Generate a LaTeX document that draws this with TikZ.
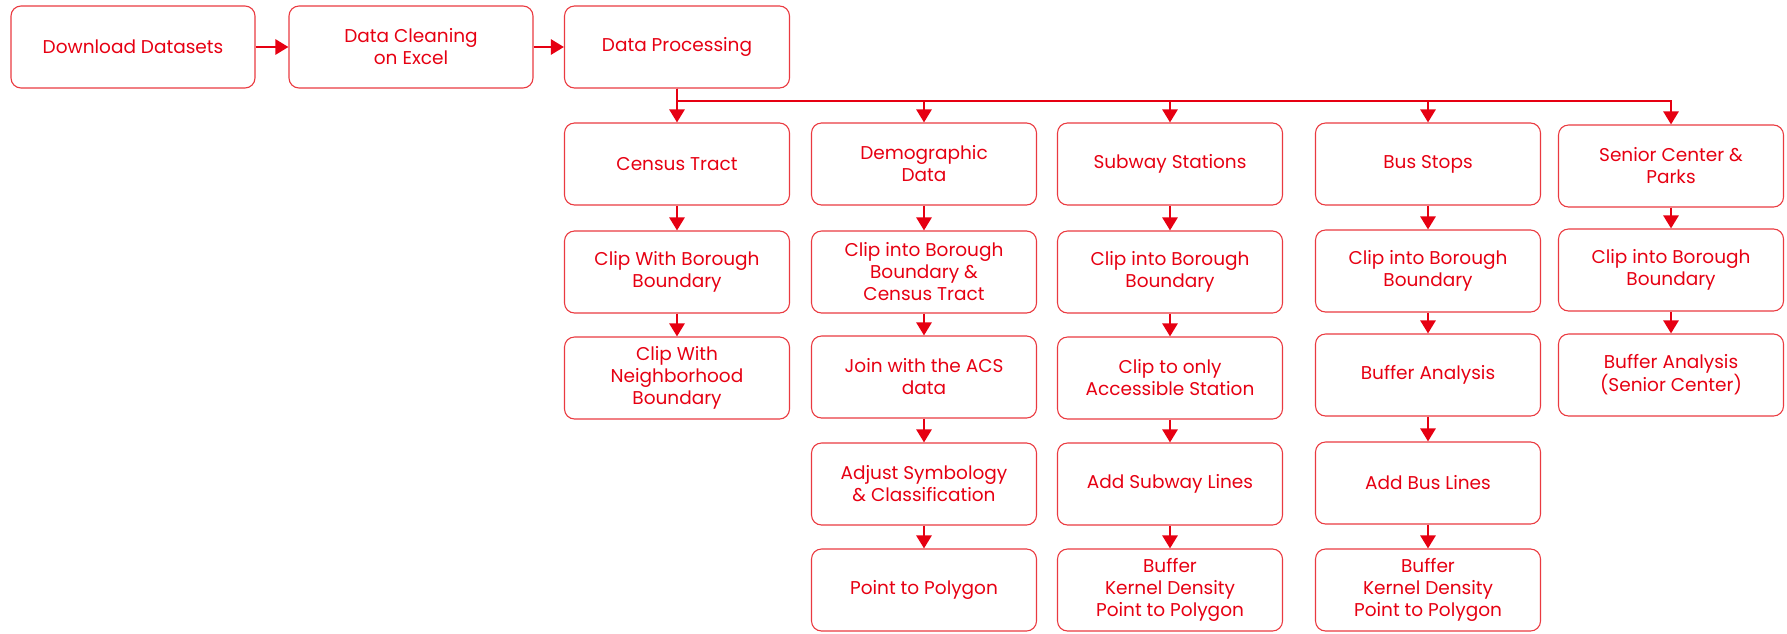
\documentclass[tikz,border=0pt]{standalone}
\usepackage{fontspec}
\setmainfont{Poppins}
\usetikzlibrary{arrows.meta}

\definecolor{flowred}{HTML}{E60012}
\definecolor{edgered}{HTML}{EA3A40}

\begin{document}
\begin{tikzpicture}[
    x=1pt, y=-1pt,
    step box/.style={
        draw=edgered,
        line width=1.1pt,
        rounded corners=10pt,
        minimum width=225pt,
        minimum height=82pt,
        align=center,
        text=flowred,
        font=\fontsize{18.5}{22}\selectfont
    },
    top box/.style={step box, minimum width=244pt},
    arr/.style={-{Triangle[width=15pt,length=13pt]}, line width=2.6pt, draw=flowred}
]
    \useasboundingbox (0,0) rectangle (1787,633);

    % top row
    \node[top box] (download) at (133,47) {Download Datasets};
    \node[top box] (cleaning) at (411,47) {Data Cleaning\\on Excel};
    \node[step box] (processing) at (677,47) {Data Processing};

    \draw[arr] (download) -- (cleaning);
    \draw[arr] (cleaning) -- (processing);

    % census tract column
    \node[step box] (census) at (677,164) {Census Tract};
    \node[step box] (censusclip) at (677,272) {Clip With Borough\\Boundary};
    \node[step box] (neighbor) at (677,378) {Clip With\\Neighborhood\\Boundary};

    % demographic column
    \node[step box] (demo) at (924,164) {Demographic\\Data};
    \node[step box] (democlip) at (924,272) {Clip into Borough\\Boundary \&\\Census Tract};
    \node[step box] (acs) at (924,377) {Join with the ACS\\data};
    \node[step box] (symbology) at (924,484) {Adjust Symbology\\\& Classification};
    \node[step box] (demopoly) at (924,590) {Point to Polygon};

    % subway column
    \node[step box] (subway) at (1170,164) {Subway Stations};
    \node[step box] (subwayclip) at (1170,272) {Clip into Borough\\Boundary};
    \node[step box] (access) at (1170,378) {Clip to only\\Accessible Station};
    \node[step box] (subwaylines) at (1170,484) {Add Subway Lines};
    \node[step box] (subwaybuf) at (1170,590) {Buffer\\Kernel Density\\Point to Polygon};

    % bus column
    \node[step box] (busstops) at (1428,164) {Bus Stops};
    \node[step box] (busclip) at (1428,271) {Clip into Borough\\Boundary};
    \node[step box] (busbuffer) at (1428,375) {Buffer Analysis};
    \node[step box] (buslines) at (1428,483) {Add Bus Lines};
    \node[step box] (busbuf) at (1428,590) {Buffer\\Kernel Density\\Point to Polygon};

    % senior center column
    \node[step box] (senior) at (1671,166) {Senior Center \&\\Parks};
    \node[step box] (seniorclip) at (1671,270) {Clip into Borough\\Boundary};
    \node[step box] (seniorbuf) at (1671,375) {Buffer Analysis\\(Senior Center)};

    % split below processing
    \coordinate (split) at (677,101);
    \draw[arr] (processing) -- (census);
    \foreach \col in {demo,subway,busstops,senior}
        \draw[arr] (processing.south) |- (split -| \col.north) -- (\col.north);

    % steps down each column
    \draw[arr] (census) -- (censusclip);
    \draw[arr] (censusclip) -- (neighbor);

    \draw[arr] (demo) -- (democlip);
    \draw[arr] (democlip) -- (acs);
    \draw[arr] (acs) -- (symbology);
    \draw[arr] (symbology) -- (demopoly);

    \draw[arr] (subway) -- (subwayclip);
    \draw[arr] (subwayclip) -- (access);
    \draw[arr] (access) -- (subwaylines);
    \draw[arr] (subwaylines) -- (subwaybuf);

    \draw[arr] (busstops) -- (busclip);
    \draw[arr] (busclip) -- (busbuffer);
    \draw[arr] (busbuffer) -- (buslines);
    \draw[arr] (buslines) -- (busbuf);

    \draw[arr] (senior) -- (seniorclip);
    \draw[arr] (seniorclip) -- (seniorbuf);
\end{tikzpicture}
\end{document}
